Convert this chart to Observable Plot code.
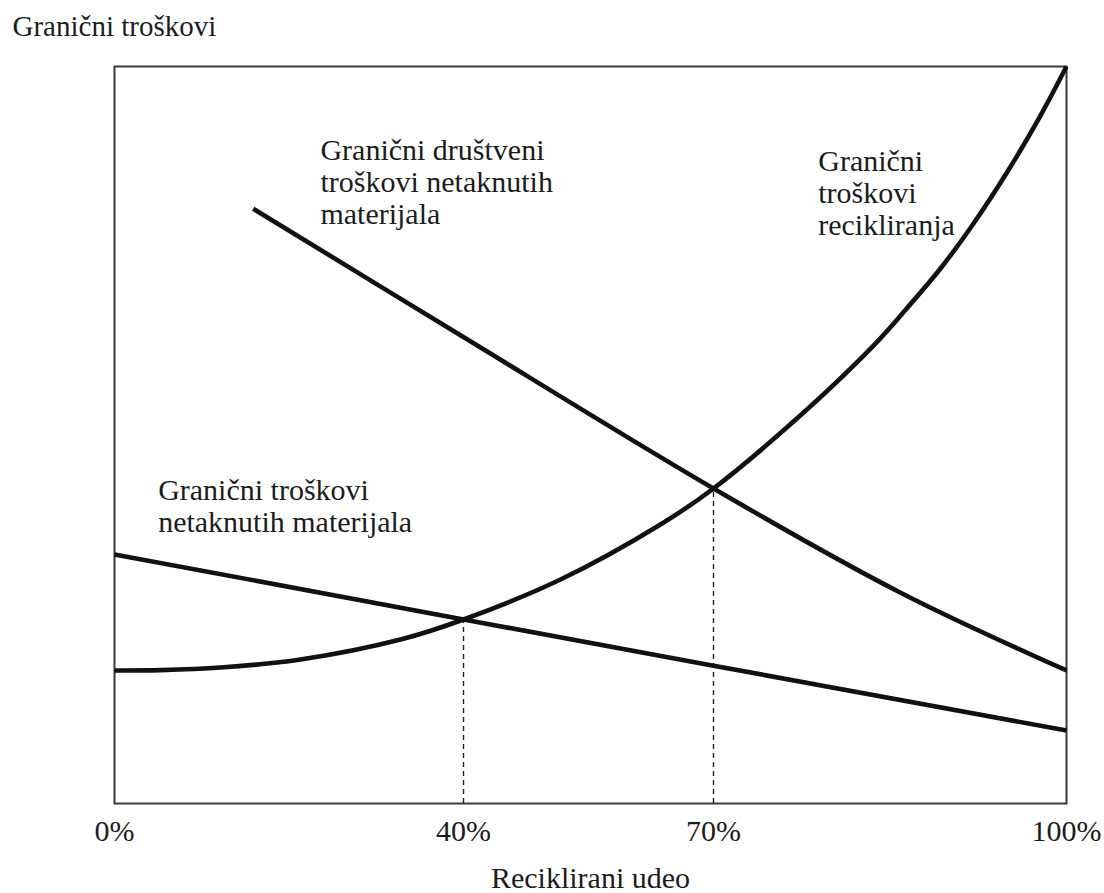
<!DOCTYPE html>
<html>
<head>
<meta charset="utf-8">
<script src="https://cdn.jsdelivr.net/npm/d3@7"></script>
<script src="https://cdn.jsdelivr.net/npm/@observablehq/plot@0.6"></script>
<style>
  html, body { margin: 0; padding: 0; background: #fff; }
</style>
</head>
<body>
<div id="chart"></div>
<script>
// ---- data ----
const tickValues = [0, 40, 70, 100];
const tickLabels = ["0%", "40%", "70%", "100%"];

// Granični troškovi recikliranja (convex, rising)
const recyclingX = [0, 5.27, 12.15, 21.32, 32.78, 40, 51.64, 63.64, 70, 76.8, 83.6, 86.49, 89.29, 92.1, 94.99, 97.79, 100];
const recyclingY = [18.05, 18.1, 18.45, 19.54, 22.25, 24.97, 30.39, 37.86, 42.74, 51.83, 62.14, 67.3, 72.59, 78.7, 85.75, 93.35, 100];

// Granični društveni troškovi netaknutih materijala (falling)
const socialX = [15.9, 39.7, 70, 85.9, 100];
const socialY = [80.7, 63.5, 42.74, 28.6, 18.05];

// Granični troškovi netaknutih materijala (falling, nearly straight)
const virginX = [0, 40, 70, 100];
const virginY = [33.8, 24.97, 18.7, 9.9];

// dashed guides at the intersections
const dashX = [40, 70];
const dashY = [24.97, 42.74];

// curve labels
const labelTexts = [
  "Granični društveni\ntroškovi netaknutih\nmaterijala",
  "Granični\ntroškovi\nrecikliranja",
  "Granični troškovi\nnetaknutih materijala"
];
const labelX = [23.6, 78.9, 5.0];
const labelY = [90.4, 88.9, 44.3];

const yTitle = "Granični troškovi";
const xTitle = "Reciklirani udeo";

// ---- build tables ----
const zip = (xs, ys) => xs.map((x, i) => ({x, y: ys[i]}));
const recycling = zip(recyclingX, recyclingY);
const social = zip(socialX, socialY);
const virgin = zip(virginX, virginY);
const dashes = zip(dashX, dashY);
const labels = labelTexts.map((t, i) => ({text: t, x: labelX[i], y: labelY[i]}));
const ticks = tickValues.map((v, i) => ({x: v, text: tickLabels[i]}));

// ---- layout ----
const W = 1104, H = 893;
const mL = 114, mR = 38, mT = 66, mB = 90;
// the book's x axis is not proportional: where each tick sits, as a share of the frame width
const tickShare = [0, 36.66, 62.92, 100];
const warp = d3.scaleLinear().domain(tickValues).range(tickShare);

const font = "'Liberation Serif', 'Times New Roman', serif";
const ink = "#111";
const textInk = "#1c1c1c";

const chart = Plot.plot({
  width: W,
  height: H,
  marginLeft: mL,
  marginRight: mR,
  marginTop: mT,
  marginBottom: mB,
  x: {type: "linear", domain: [0, 100], transform: d => warp(d), axis: null},
  y: {domain: [0, 100], axis: null},
  style: {fontFamily: font, fontSize: "30px", color: textInk, background: "#fff"},
  marks: [
    Plot.frame({stroke: "#3a3a3a", strokeWidth: 2}),
    Plot.ruleX(dashes, {x: "x", y1: 0, y2: "y", stroke: "#222", strokeWidth: 1.4, strokeDasharray: "5,4"}),
    Plot.line(virgin, {x: "x", y: "y", stroke: ink, strokeWidth: 4.6, strokeLinecap: "butt"}),
    Plot.line(social, {x: "x", y: "y", stroke: ink, strokeWidth: 4.6, strokeLinecap: "butt", curve: "catmull-rom"}),
    Plot.line(recycling, {x: "x", y: "y", stroke: ink, strokeWidth: 4.6, strokeLinecap: "butt", curve: "catmull-rom"}),
    Plot.text(ticks, {x: "x", text: "text", frameAnchor: "bottom", lineAnchor: "top", dy: 16, fontSize: 30, fill: textInk}),
    Plot.text(labels, {x: "x", y: "y", text: "text", textAnchor: "start", lineAnchor: "top", lineHeight: 1.07, fontSize: 30, fill: textInk}),
    Plot.text([yTitle], {frameAnchor: "top-left", dx: -102, dy: -51, textAnchor: "start", lineAnchor: "top", fontSize: 29, fill: textInk}),
    Plot.text([xTitle], {frameAnchor: "bottom", dy: 63, lineAnchor: "top", fontSize: 30, fill: textInk})
  ]
});

document.getElementById("chart").appendChild(chart);
</script>
</body>
</html>
